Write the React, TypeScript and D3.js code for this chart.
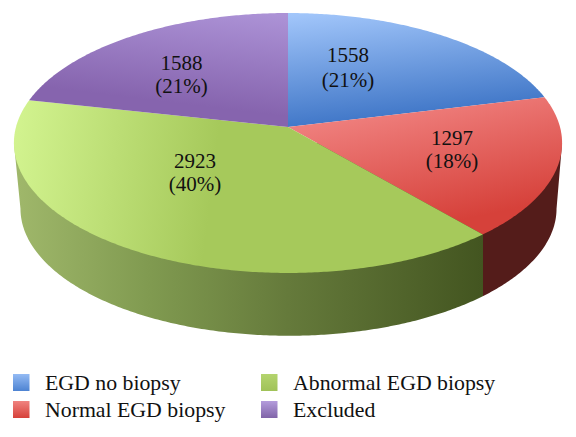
import * as d3 from "d3";

const categories = ["EGD no biopsy", "Normal EGD biopsy", "Abnormal EGD biopsy", "Excluded"];
const counts = [1558, 1297, 2923, 1588];
const percents = ["(21%)", "(18%)", "(40%)", "(21%)"];

const width = 576;
const height = 437;

// pie seen in perspective: unit circle -> screen
const top = { cx: 288, cy: 127, a: 272, b: 128, k: 0.123 };
const bottom = { cx: 288.5, cy: 193, a: 266, b: 125.2, k: 0.123 };

function project(face: typeof top, angle: number, r = 1): [number, number] {
  const u = r * Math.sin(angle);
  const v = -r * Math.cos(angle);
  const s = 1 - face.k * v;
  return [face.cx + (face.a * u) / s, face.cy + (face.b * v) / s];
}

function arcPoints(face: typeof top, a0: number, a1: number) {
  return [...d3.range(a0, a1, 0.01), a1].map((a) => project(face, a));
}

const arcs = d3.pie<number>().sort(null)(counts);
const line = d3.line();

const rightEdge = Math.acos(-top.k);
const leftEdge = 2 * Math.PI - rightEdge;

const wallPath =
  line([
    project(top, rightEdge),
    ...arcPoints(bottom, rightEdge, leftEdge),
    project(top, leftEdge),
  ]) + "Z";

const wallLeft = project(top, leftEdge)[0];
const wallRight = project(top, rightEdge)[0];
const junction = project(top, arcs[1].endAngle)[0];
const wallX = d3.scaleLinear().domain([wallLeft, wallRight]).range([0, 1]);

const wallStops: [number, string][] = [
  [wallLeft, "#a0b86b"],
  [150, "#809a50"],
  [288, "#657a3b"],
  [junction, "#435520"],
];

const topGradients = [
  { id: "g0", x1: 288, y1: 13, x2: 300, y2: 125, from: "#a3c7fb", to: "#4379c9" },
  { id: "g1", x1: 425, y1: 100, x2: 450, y2: 222, from: "#ef7f7d", to: "#d6413a" },
  { id: "g2", x1: 14, y1: 140, x2: 215, y2: 165, from: "#d2f38f", to: "#a6c95b" },
  { id: "g3", x1: 262, y1: 13, x2: 250, y2: 112, from: "#ac92d6", to: "#8664ae" },
];

const legendFills = [
  ["#94bbf4", "#4d83d2"],
  ["#f08380", "#d6413a"],
  ["#b4d46e", "#a0c258"],
  ["#b49cdc", "#8064a8"],
];

// label anchor and baseline of the first line
const labelAt: [number, number][] = [
  [348, 62],
  [452, 145],
  [195, 168],
  [181.5, 70],
];
const labelGap = [25, 23, 22.5, 22.5];
const legendAt: [number, number][] = [
  [13, 390],
  [13, 417],
  [261, 390],
  [261, 417],
];

const serif = "'Liberation Serif', serif";

export default function App() {
  return (
    <svg
      width={width}
      height={height}
      viewBox={`0 0 ${width} ${height}`}
      style={{ position: "absolute", left: 0, top: 0, background: "#fff" }}
    >
      <defs>
        {topGradients.map((g) => (
          <linearGradient
            key={g.id}
            id={g.id}
            gradientUnits="userSpaceOnUse"
            x1={g.x1}
            y1={g.y1}
            x2={g.x2}
            y2={g.y2}
          >
            <stop offset="0" stopColor={g.from} />
            <stop offset="1" stopColor={g.to} />
          </linearGradient>
        ))}
        <linearGradient id="wall" gradientUnits="userSpaceOnUse" x1={wallLeft} y1={0} x2={wallRight} y2={0}>
          {wallStops.map(([x, c]) => (
            <stop key={x} offset={wallX(x)} stopColor={c} />
          ))}
          <stop offset={wallX(junction)} stopColor="#541c1a" />
          <stop offset="1" stopColor="#541c1a" />
        </linearGradient>
        {legendFills.map((c, i) => (
          <linearGradient key={i} id={`lg${i}`} x1="0" y1="0" x2="0" y2="1">
            <stop offset="0" stopColor={c[0]} />
            <stop offset="1" stopColor={c[1]} />
          </linearGradient>
        ))}
      </defs>

      <path d={wallPath} fill="url(#wall)" />

      {arcs.map((d, i) => (
        <path
          key={categories[i]}
          d={line([project(top, 0, 0), ...arcPoints(top, d.startAngle, d.endAngle)]) + "Z"}
          fill={`url(#g${i})`}
        />
      ))}

      <g fontFamily={serif} fontSize={21} fill="#111" textAnchor="middle">
        {counts.map((c, i) => (
          <text key={i} x={labelAt[i][0]} y={labelAt[i][1]}>
            <tspan x={labelAt[i][0]}>{c}</tspan>
            <tspan x={labelAt[i][0]} dy={labelGap[i]}>
              {percents[i]}
            </tspan>
          </text>
        ))}
      </g>

      <g fontFamily={serif} fontSize={21.8} fill="#111">
        {categories.map((name, i) => (
          <g key={name} transform={`translate(${legendAt[i][0]},${legendAt[i][1]})`}>
            <rect x={0} y={-16} width={16.5} height={17} fill={`url(#lg${i})`} />
            <text x={32}>{name}</text>
          </g>
        ))}
      </g>
    </svg>
  );
}
